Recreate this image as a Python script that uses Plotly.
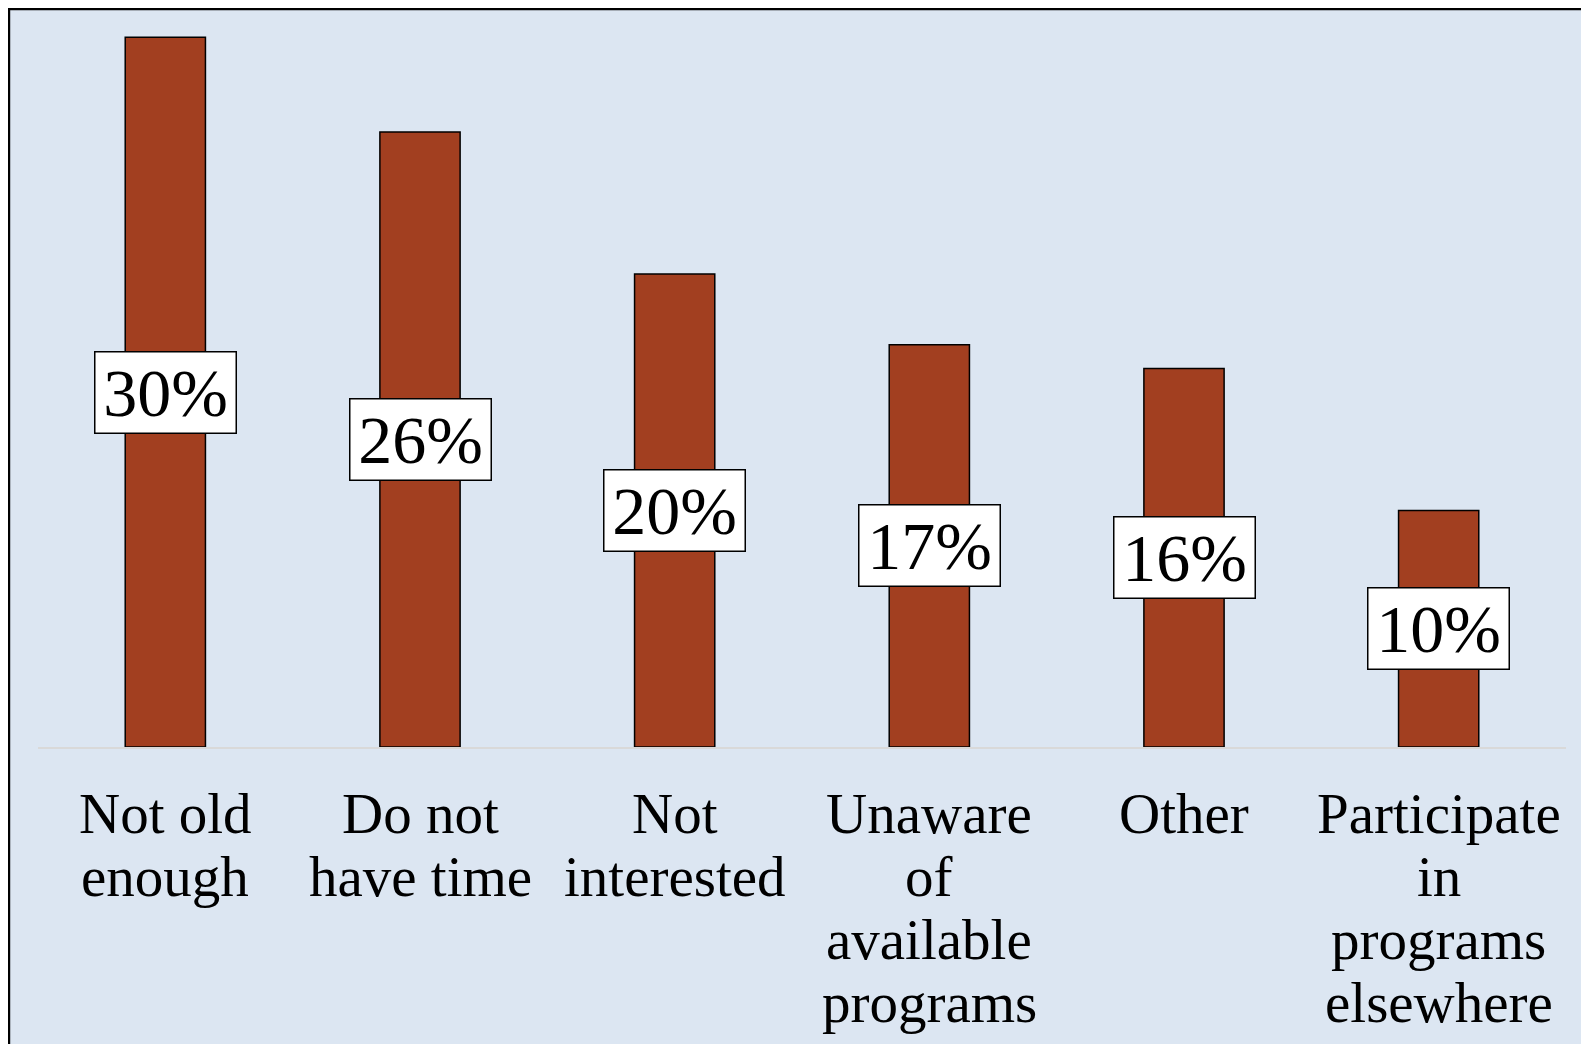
import plotly.graph_objects as go

categories = ["Not old enough", "Do not have time", "Not interested",
              "Unaware of available programs", "Other",
              "Participate in programs elsewhere"]
category_lines = [["Not old", "enough"], ["Do not", "have time"], ["Not", "interested"],
                  ["Unaware", "of", "available", "programs"], ["Other"],
                  ["Participate", "in", "programs", "elsewhere"]]
values = [30, 26, 20, 17, 16, 10]
value_labels = ["30%", "26%", "20%", "17%", "16%", "10%"]

FONT = "Liberation Serif"
BG = "#DCE6F2"
BAR = "#A23F20"

fig = go.Figure()
fig.add_trace(go.Bar(
    x=categories, y=values,
    marker=dict(color=BAR, line=dict(color="black", width=1.5)),
    width=0.315, hoverinfo="skip", showlegend=False,
))

annotations = []
for c, v, t in zip(categories, values, value_labels):
    annotations.append(dict(
        x=c, y=v / 2, xref="x", yref="y", text=t, showarrow=False,
        font=dict(family=FONT, size=68, color="black"),
        bgcolor="white", bordercolor="black", borderwidth=1.5, borderpad=0,
        width=140, height=80, align="center", valign="middle",
        xanchor="center", yanchor="middle",
    ))
for c, lines in zip(categories, category_lines):
    for i, ln in enumerate(lines):
        annotations.append(dict(
            x=c, y=0, xref="x", yref="y", text=ln, showarrow=False,
            font=dict(family=FONT, size=57, color="black"),
            xanchor="center", yanchor="top", yshift=-33 - 63 * i,
        ))

fig.update_layout(
    width=1589, height=1044,
    margin=dict(l=30, r=31, t=5, b=305),
    paper_bgcolor="white", plot_bgcolor="rgba(0,0,0,0)",
    annotations=annotations,
    shapes=[dict(type="rect", xref="paper", yref="paper",
                 x0=-0.019, x1=1.05, y0=-0.5, y1=1.0054,
                 fillcolor=BG, line=dict(color="black", width=2.5), layer="below")],
    xaxis=dict(showticklabels=False, showline=True, linecolor="#D9D9D9", linewidth=1.5,
               ticks="", showgrid=False, zeroline=False),
    yaxis=dict(range=[0, 31.03], visible=False, showgrid=False, zeroline=False),
    bargap=0.685,
)

fig.write_html("out.html")
